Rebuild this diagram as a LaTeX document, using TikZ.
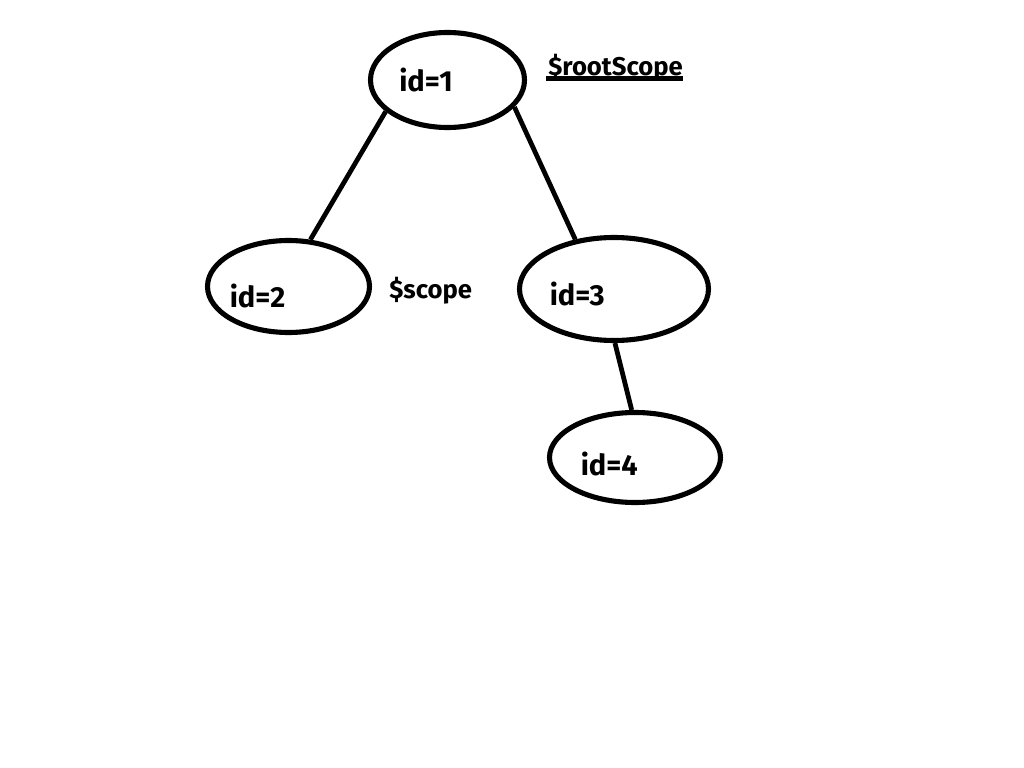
\documentclass[tikz,border=0pt]{standalone}
\usepackage{fontspec}
\setmainfont{Fira Sans}
\usetikzlibrary{shapes.geometric}

\begin{document}
\begin{tikzpicture}[
    bubble/.style={draw, ellipse, line width=2.9pt, inner sep=0pt},
    idlabel/.style={anchor=base west, inner sep=0pt, font=\fontsize{16.5}{18}\selectfont\bfseries},
    scopelabel/.style={anchor=base west, inner sep=0pt, font=\fontsize{14.6}{17}\selectfont\bfseries},
    link/.style={line width=2.7pt}
]
    \useasboundingbox (0,0) rectangle (20.48,-15.36);

    % Scope tree
    \node[bubble, minimum width=3.08cm, minimum height=1.9cm] (e1) at (8.95,-1.6) {};
    \node[bubble, minimum width=3.24cm, minimum height=1.84cm] (e2) at (5.77,-5.73) {};
    \node[bubble, minimum width=3.78cm, minimum height=2.06cm] (e3) at (12.28,-5.78) {};
    \node[bubble, minimum width=3.42cm, minimum height=1.8cm] (e4) at (12.7,-9.15) {};

    \node[idlabel] (t1) at ([shift={(0.62,-0.24)}]e1.west) {id=1};
    \node[idlabel] (t2) at ([shift={(0.49,-0.42)}]e2.west) {id=2};
    \node[idlabel] (t3) at ([shift={(0.65,-0.33)}]e3.west) {id=3};
    \node[idlabel] (t4) at ([shift={(0.67,-0.36)}]e4.west) {id=4};

    % Links
    \draw[link] (e1.207) -- (e2.65);
    \draw[link] (e1.338) -- (e3.128);
    \draw[link] (e3.271) -- (e4.94);

    % Scope names
    \node[scopelabel] (root) at ([shift={(0.42,0.08)}]e1.east) {\$rootScope};
    \draw[line width=2.4pt] ([shift={(-0.04,-0.05)}]root.base west) -- ([shift={(0,-0.05)}]root.base east);
    \node[scopelabel] (scope) at ([shift={(0.34,-0.25)}]e2.east) {\$scope};
\end{tikzpicture}
\end{document}
